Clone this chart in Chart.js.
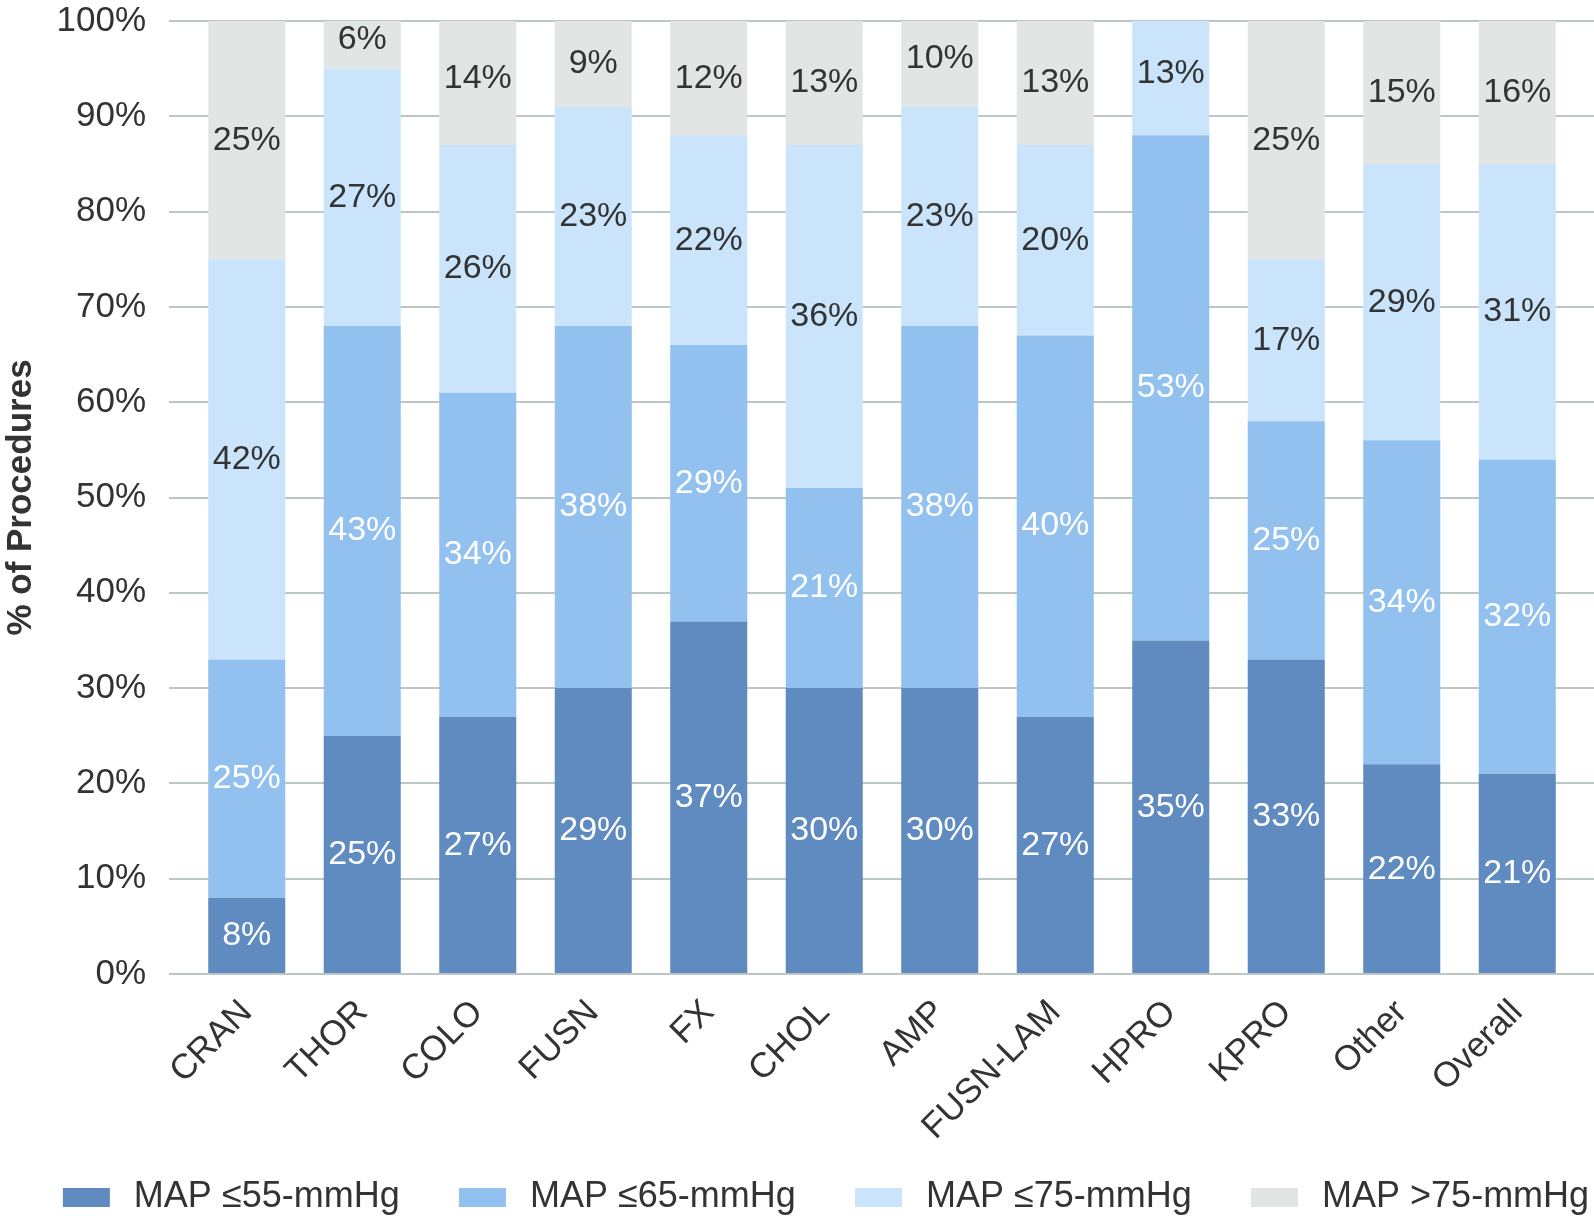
<!DOCTYPE html>
<html>
<head>
<meta charset="utf-8">
<script src="https://cdn.jsdelivr.net/npm/chart.js@4.4.1/dist/chart.umd.min.js"></script>
<style>
html, body { margin: 0; padding: 0; background: #fff; }
#wrap { width: 1594px; height: 1220px; position: relative; }
</style>
</head>
<body>
<div id="wrap"><canvas id="grafico"></canvas></div>
<script>
// Categorias (procedimentos)
const categorias = ['CRAN', 'THOR', 'COLO', 'FUSN', 'FX', 'CHOL', 'AMP', 'FUSN-LAM', 'HPRO', 'KPRO', 'Other', 'Overall'];

// Alturas das barras lidas no eixo (%)
const map55 = [8, 25, 27, 30, 37, 30, 30, 27, 35, 33, 22, 21];
const map65 = [25, 43, 34, 38, 29, 21, 38, 40, 53, 25, 34, 33];
const map75 = [42, 27, 26, 23, 22, 36, 23, 20, 13, 17, 29, 31];
const map75mais = [25, 6, 14, 9, 12, 13, 10, 13, 0, 25, 15, 15];

// Rótulos impressos em cada segmento (%)
const rot55 = [8, 25, 27, 29, 37, 30, 30, 27, 35, 33, 22, 21];
const rot65 = [25, 43, 34, 38, 29, 21, 38, 40, 53, 25, 34, 32];
const rot75 = [42, 27, 26, 23, 22, 36, 23, 20, 13, 17, 29, 31];
const rot75mais = [25, 6, 14, 9, 12, 13, 10, 13, null, 25, 15, 16];

const series = ['MAP ≤55-mmHg', 'MAP ≤65-mmHg', 'MAP ≤75-mmHg', 'MAP >75-mmHg'];
const cores = ['#5f8bc0', '#92c1f0', '#cae5fb', '#e1e5e4'];
const coresTexto = ['#ffffff', '#ffffff', '#333333', '#333333'];
const rotulos = [rot55, rot65, rot75, rot75mais];

const corTexto = '#333333';
const corGrade = '#bcc6c4';

Chart.defaults.font.family = '"Liberation Sans", Arial, sans-serif';
Chart.defaults.color = corTexto;

// Linhas de grade que passam um pouco além da área das barras
function linhaGrade(chart, valor) {
    const { ctx, chartArea, scales: { y } } = chart;
    const py = Math.round(y.getPixelForValue(valor));
    ctx.beginPath();
    ctx.moveTo(chartArea.left - 20, py);
    ctx.lineTo(chartArea.right + 20, py);
    ctx.stroke();
}

const gradePlugin = {
    id: 'grade',
    beforeDatasetsDraw(chart) {
        const { ctx, scales: { y } } = chart;
        ctx.save();
        ctx.strokeStyle = corGrade;
        ctx.lineWidth = 2;
        y.ticks.forEach(t => {
            if (t.value !== 0) linhaGrade(chart, t.value);
        });
        ctx.restore();
    },
    afterDatasetsDraw(chart) {
        const { ctx } = chart;
        ctx.save();
        ctx.strokeStyle = corGrade;
        ctx.lineWidth = 2;
        linhaGrade(chart, 0);
        ctx.restore();
    }
};

// Rótulos de porcentagem no meio de cada segmento
const rotulosPlugin = {
    id: 'rotulos',
    afterDatasetsDraw(chart) {
        const { ctx } = chart;
        ctx.save();
        ctx.font = '34px "Liberation Sans", Arial, sans-serif';
        ctx.textAlign = 'center';
        ctx.textBaseline = 'middle';
        chart.data.datasets.forEach((ds, i) => {
            const meta = chart.getDatasetMeta(i);
            meta.data.forEach((barra, j) => {
                const v = rotulos[i][j];
                if (v == null) return;
                const { x, y, base } = barra.getProps(['x', 'y', 'base'], true);
                ctx.fillStyle = coresTexto[i];
                ctx.fillText(v + '%', x, (y + base) / 2);
            });
        });
        ctx.restore();
    }
};

// Legenda desenhada embaixo, itens com passo fixo
const legendaPlugin = {
    id: 'legenda',
    afterDraw(chart) {
        const { ctx } = chart;
        ctx.save();
        ctx.font = '36px "Liberation Sans", Arial, sans-serif';
        ctx.textBaseline = 'alphabetic';
        const caixaL = 47, caixaA = 19, espTexto = 24, espItem = 58;
        const itens = chart.data.datasets.map(ds => ({
            texto: ds.label,
            cor: ds.backgroundColor,
            w: ctx.measureText(ds.label).width
        }));
        const maxW = Math.max(...itens.map(it => it.w));
        const passo = caixaL + espTexto + maxW + espItem;
        const total = passo * itens.length - espItem;
        let x = (chart.width - total) / 2 + 29;
        const yBase = chart.height - 13;
        itens.forEach(it => {
            ctx.fillStyle = it.cor;
            ctx.fillRect(x, yBase - caixaA, caixaL, caixaA);
            ctx.fillStyle = corTexto;
            ctx.fillText(it.texto, x + caixaL + espTexto, yBase);
            x += passo;
        });
        ctx.restore();
    }
};

const ctx = document.getElementById('grafico').getContext('2d');
const grafico = new Chart(ctx, {
    type: 'bar',
    data: {
        labels: categorias,
        datasets: [map55, map65, map75, map75mais].map((dados, i) => ({
            label: series[i],
            data: dados,
            backgroundColor: cores[i],
            borderWidth: 0
        }))
    },
    options: {
        responsive: true,
        maintainAspectRatio: false,
        animation: false,
        layout: { padding: { left: 0, right: 19, top: 21, bottom: 66 } },
        datasets: { bar: { categoryPercentage: 0.667, barPercentage: 1 } },
        plugins: {
            legend: { display: false },
            tooltip: { enabled: false }
        },
        scales: {
            x: {
                stacked: true,
                grid: { display: false, drawTicks: false },
                border: { display: false },
                ticks: {
                    autoSkip: false,
                    maxRotation: 45,
                    minRotation: 45,
                    padding: 18,
                    color: corTexto,
                    font: { size: 35 }
                },
                afterFit(escala) { escala.height = 180; }
            },
            y: {
                stacked: true,
                min: 0,
                max: 100,
                grid: { display: false, drawTicks: false },
                border: { display: false },
                ticks: {
                    stepSize: 10,
                    padding: 43,
                    color: corTexto,
                    font: { size: 35 },
                    callback: v => v + '%'
                },
                title: {
                    display: true,
                    text: '% of Procedures',
                    color: corTexto,
                    font: { size: 35, weight: 'bold' },
                    padding: { top: 0, bottom: 0 }
                },
                afterFit(escala) {
                    escala.width = 189;
                    escala.paddingTop = 0;
                    escala.paddingBottom = 0;
                }
            }
        }
    },
    plugins: [gradePlugin, rotulosPlugin, legendaPlugin]
});
</script>
</body>
</html>
